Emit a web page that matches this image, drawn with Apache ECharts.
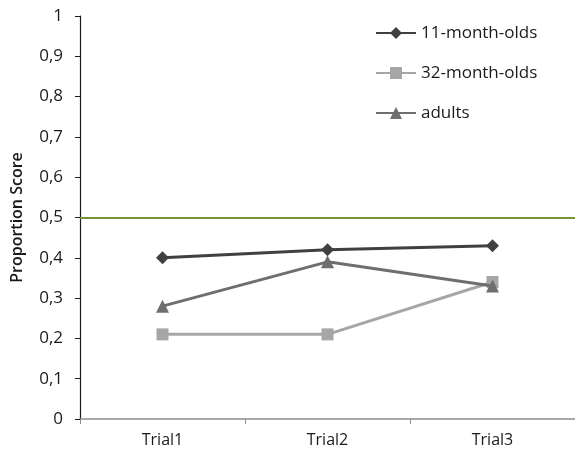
<!DOCTYPE html>
<html>
<head>
<meta charset="utf-8">
<script src="https://cdn.jsdelivr.net/npm/echarts@6/dist/echarts.min.js"></script>
<style>html,body{margin:0;padding:0;background:#fff}#c{width:575px;height:455px}</style>
</head>
<body>
<div id="c"></div>
<script>
const categories = ['Trial1', 'Trial2', 'Trial3'];
const infants11 = [0.40, 0.42, 0.43];
const infants32 = [0.21, 0.21, 0.34];
const adults = [0.28, 0.39, 0.33];
const seriesNames = ['11-month-olds', '32-month-olds', 'adults'];
const chanceLevel = 0.5;

const FONT = 'Open Sans';
const chart = echarts.init(document.getElementById('c'), null, {renderer: 'canvas'});
chart.setOption({
  animation: false,
  backgroundColor: '#fff',
  textStyle: {fontFamily: FONT},
  grid: {left: 80, top: 16, width: 504, height: 403, containLabel: false},
  legend: {
    orient: 'vertical', left: 375, top: 24, padding: 0,
    itemWidth: 40, itemHeight: 15, itemGap: 22,
    textStyle: {fontFamily: FONT, fontSize: 17, color: '#1a1a1a', lineHeight: 18},
    data: seriesNames
  },
  xAxis: {
    type: 'category', data: categories, boundaryGap: true,
    axisLine: {lineStyle: {color: '#8c8c8c', width: 1.5}},
    axisTick: {show: true, length: 5, lineStyle: {color: '#8c8c8c'}},
    axisLabel: {fontFamily: FONT, fontSize: 16, color: '#1a1a1a', margin: 13}
  },
  yAxis: {
    type: 'value', min: 0, max: 1, interval: 0.1,
    name: 'Proportion Score', nameLocation: 'middle', nameGap: 55,
    nameTextStyle: {fontFamily: FONT, fontSize: 16, color: '#1a1a1a', fontWeight: 600},
    axisLine: {show: true, lineStyle: {color: '#1a1a1a', width: 1.2}},
    axisTick: {show: true, length: 5, lineStyle: {color: '#1a1a1a'}},
    splitLine: {show: false},
    axisLabel: {
      fontFamily: FONT, fontSize: 17, color: '#1a1a1a', margin: 17,
      formatter: v => String(Math.round(v * 10) / 10).replace('.', ',')
    }
  },
  series: [
    {
      name: seriesNames[0], type: 'line', data: infants11,
      symbol: 'diamond', symbolSize: 13,
      lineStyle: {color: '#404040', width: 3},
      itemStyle: {color: '#404040'},
      markLine: {
        silent: true, symbol: 'none', label: {show: false},
        lineStyle: {color: '#77933C', width: 2, type: 'solid'},
        data: [{yAxis: chanceLevel}]
      },
      z: 3
    },
    {
      name: seriesNames[1], type: 'line', data: infants32,
      symbol: 'rect', symbolSize: 12,
      lineStyle: {color: '#A6A6A6', width: 3},
      itemStyle: {color: '#A6A6A6'},
      z: 2
    },
    {
      name: seriesNames[2], type: 'line', data: adults,
      symbol: 'triangle', symbolSize: 13,
      lineStyle: {color: '#6E6E6E', width: 3},
      itemStyle: {color: '#6E6E6E'},
      z: 4
    }
  ]
});
</script>
</body>
</html>
